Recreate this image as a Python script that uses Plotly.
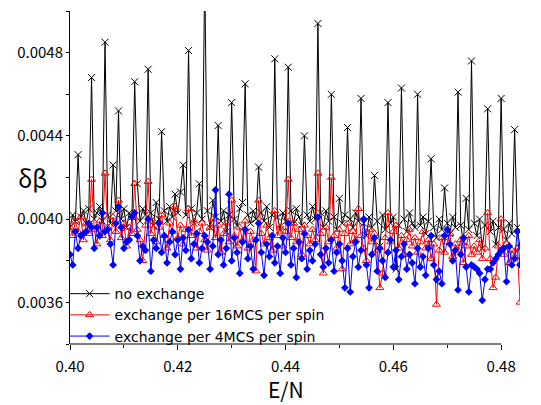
import plotly.graph_objects as go

x_start = 0.4000
x_step = 0.0005

no_exchange = [
    0.00396, 0.00402, 0.00399, 0.00431, 0.00401, 0.00404, 0.00398, 0.00405, 0.00468, 0.00400,
    0.00403, 0.00406, 0.00399, 0.00485, 0.00402, 0.00398, 0.00426, 0.00404, 0.00452, 0.00400,
    0.00405, 0.00396, 0.00403, 0.00401, 0.00466, 0.00417, 0.00399, 0.00405, 0.00402, 0.00472,
    0.00403, 0.00397, 0.00408, 0.00400, 0.00442, 0.00404, 0.00399, 0.00406, 0.00401, 0.00412,
    0.00403, 0.00413, 0.00426, 0.00402, 0.00481, 0.00405, 0.00398, 0.00403, 0.00417, 0.00400,
    0.00520, 0.00404, 0.00396, 0.00409, 0.00401, 0.00445, 0.00399, 0.00404, 0.00394, 0.00402,
    0.00456, 0.00400, 0.00397, 0.00405, 0.00408, 0.00465, 0.00402, 0.00398, 0.00404, 0.00400,
    0.00425, 0.00403, 0.00399, 0.00406, 0.00396, 0.00402, 0.00477, 0.00401, 0.00395, 0.00403,
    0.00399, 0.00473, 0.00404, 0.00398, 0.00405, 0.00401, 0.00397, 0.00440, 0.00402, 0.00399,
    0.00406, 0.00400, 0.00494, 0.00403, 0.00396, 0.00404, 0.00399, 0.00460, 0.00401, 0.00395,
    0.00410, 0.00398, 0.00402, 0.00444, 0.00400, 0.00396, 0.00403, 0.00399, 0.00458, 0.00398,
    0.00392, 0.00401, 0.00396, 0.00421, 0.00399, 0.00387, 0.00402, 0.00395, 0.00456, 0.00398,
    0.00401, 0.00376, 0.00397, 0.00463, 0.00400, 0.00394, 0.00403, 0.00398, 0.00396, 0.00460,
    0.00397, 0.00401, 0.00393, 0.00399, 0.00429, 0.00396, 0.00391, 0.00400, 0.00395, 0.00415,
    0.00398, 0.00393, 0.00401, 0.00396, 0.00461, 0.00397, 0.00389, 0.00410, 0.00395, 0.00476,
    0.00398, 0.00392, 0.00400, 0.00386, 0.00397, 0.00453, 0.00394, 0.00399, 0.00388, 0.00396,
    0.00458, 0.00395, 0.00390, 0.00398, 0.00393, 0.00443, 0.00396, 0.00386,
]

exchange_16 = [
    0.00396, 0.00392, 0.00399, 0.00394, 0.00401, 0.00390, 0.00398, 0.00393, 0.00419, 0.00395,
    0.00388, 0.00399, 0.00392, 0.00422, 0.00396, 0.00390, 0.00401, 0.00394, 0.00409, 0.00391,
    0.00398, 0.00387, 0.00396, 0.00393, 0.00417, 0.00395, 0.00390, 0.00380, 0.00397, 0.00418,
    0.00393, 0.00399, 0.00389, 0.00396, 0.00402, 0.00392, 0.00386, 0.00398, 0.00394, 0.00406,
    0.00391, 0.00397, 0.00388, 0.00395, 0.00405, 0.00392, 0.00399, 0.00386, 0.00394, 0.00398,
    0.00390, 0.00385, 0.00396, 0.00400, 0.00391, 0.00397, 0.00384, 0.00393, 0.00398, 0.00389,
    0.00409, 0.00392, 0.00387, 0.00396, 0.00390, 0.00399, 0.00386, 0.00394, 0.00390, 0.00375,
    0.00409, 0.00393, 0.00388, 0.00397, 0.00391, 0.00385, 0.00404, 0.00392, 0.00396, 0.00387,
    0.00394, 0.00419, 0.00391, 0.00398, 0.00389, 0.00395, 0.00383, 0.00397, 0.00392, 0.00388,
    0.00395, 0.00390, 0.00422, 0.00393, 0.00374, 0.00396, 0.00389, 0.00420, 0.00392, 0.00386,
    0.00395, 0.00376, 0.00393, 0.00398, 0.00388, 0.00394, 0.00390, 0.00405, 0.00392, 0.00386,
    0.00380, 0.00395, 0.00389, 0.00393, 0.00385, 0.00367, 0.00374, 0.00391, 0.00403, 0.00389,
    0.00394, 0.00397, 0.00386, 0.00392, 0.00383, 0.00390, 0.00395, 0.00387, 0.00391, 0.00384,
    0.00389, 0.00394, 0.00386, 0.00390, 0.00381, 0.00388, 0.00359, 0.00385, 0.00391, 0.00384,
    0.00389, 0.00393, 0.00382, 0.00388, 0.00385, 0.00390, 0.00379, 0.00387, 0.00392, 0.00383,
    0.00387, 0.00384, 0.00390, 0.00381, 0.00386, 0.00403, 0.00381, 0.00367, 0.00372, 0.00387,
    0.00400, 0.00383, 0.00388, 0.00379, 0.00385, 0.00382, 0.00386, 0.00360,
]

exchange_4 = [
    0.00383, 0.00378, 0.00394, 0.00386, 0.00392, 0.00393, 0.00394, 0.00398, 0.00396, 0.00386,
    0.00396, 0.00392, 0.00403, 0.00394, 0.00395, 0.00388, 0.00378, 0.00398, 0.00406, 0.00396,
    0.00386, 0.00389, 0.00390, 0.00401, 0.00403, 0.00392, 0.00380, 0.00387, 0.00385, 0.00400,
    0.00375, 0.00390, 0.00386, 0.00398, 0.00384, 0.00392, 0.00379, 0.00389, 0.00394, 0.00383,
    0.00390, 0.00376, 0.00391, 0.00385, 0.00395, 0.00381, 0.00388, 0.00393, 0.00379, 0.00386,
    0.00392, 0.00389, 0.00376, 0.00387, 0.00414, 0.00383, 0.00390, 0.00378, 0.00386, 0.00412,
    0.00380, 0.00391, 0.00384, 0.00374, 0.00389, 0.00395, 0.00381, 0.00387, 0.00376, 0.00390,
    0.00398, 0.00384, 0.00373, 0.00388, 0.00382, 0.00392, 0.00379, 0.00387, 0.00374, 0.00391,
    0.00384, 0.00398, 0.00378, 0.00386, 0.00372, 0.00389, 0.00381, 0.00393, 0.00376, 0.00385,
    0.00380, 0.00388, 0.00401, 0.00383, 0.00377, 0.00386, 0.00379, 0.00390, 0.00375, 0.00384,
    0.00388, 0.00380, 0.00367, 0.00386, 0.00365, 0.00382, 0.00389, 0.00377, 0.00385, 0.00400,
    0.00378, 0.00367, 0.00383, 0.00391, 0.00375, 0.00386, 0.00380, 0.00372, 0.00384, 0.00390,
    0.00377, 0.00385, 0.00371, 0.00382, 0.00388, 0.00376, 0.00383, 0.00379, 0.00369, 0.00386,
    0.00377, 0.00382, 0.00373, 0.00386, 0.00392, 0.00378, 0.00371, 0.00375, 0.00369, 0.00392,
    0.00395, 0.00388, 0.00380, 0.00385, 0.00366, 0.00383, 0.00391, 0.00377, 0.00365, 0.00378,
    0.00377, 0.00376, 0.00374, 0.00361, 0.00371, 0.00376, 0.00376, 0.00379, 0.00381, 0.00383,
    0.00385, 0.00386, 0.00370, 0.00387, 0.00378, 0.00381, 0.00394, 0.00378,
]

series_names = ["no exchange", "exchange per 16MCS per spin", "exchange per 4MCS per spin"]
x_tick_values = [0.40, 0.42, 0.44, 0.46, 0.48]
x_tick_labels = ["0.40", "0.42", "0.44", "0.46", "0.48"]
y_tick_values = [0.0036, 0.0040, 0.0044, 0.0048]
y_tick_labels = ["0.0036", "0.0040", "0.0044", "0.0048"]

n = len(no_exchange)
xs = [round(x_start + i * x_step, 5) for i in range(n)]

FONT = "Noto Sans CJK JP"
LEG_FONT = "DejaVu Sans"

fig = go.Figure()
fig.add_trace(go.Scatter(
    x=xs, y=no_exchange, mode="lines+markers", name=series_names[0],
    line=dict(color="black", width=1),
    marker=dict(symbol="x-thin", size=7, color="black", line=dict(color="black", width=1)),
))
fig.add_trace(go.Scatter(
    x=xs[:len(exchange_16)], y=exchange_16, mode="lines+markers", name=series_names[1],
    line=dict(color="red", width=1),
    marker=dict(symbol="triangle-up-open", size=7, color="red", line=dict(color="red", width=1)),
))
fig.add_trace(go.Scatter(
    x=xs[:len(exchange_4)], y=exchange_4, mode="lines+markers", name=series_names[2],
    line=dict(color="blue", width=1),
    marker=dict(symbol="diamond", size=6, color="blue"),
))

fig.update_layout(
    width=541, height=405,
    margin=dict(l=62, r=29, t=3, b=69, autoexpand=False),
    paper_bgcolor="white", plot_bgcolor="white",
    font=dict(family=FONT, color="black", size=14),
    showlegend=True,
    legend=dict(
        x=-0.012, y=0.198, xanchor="left", yanchor="top",
        bgcolor="rgba(0,0,0,0)", borderwidth=0,
        font=dict(family=LEG_FONT, size=14, color="black"),
        tracegroupgap=0, itemwidth=40,
    ),
    xaxis=dict(
        range=[0.40, 0.4835], showgrid=False, zeroline=False, showline=False,
        automargin=False,
        tickmode="array", tickvals=x_tick_values, ticktext=x_tick_labels,
        ticks="outside", ticklen=5, tickwidth=1, tickcolor="black",
        ticklabelstandoff=4,
        tickfont=dict(family=FONT, size=15, color="black"),
        minor=dict(tickvals=[0.41, 0.43, 0.45, 0.47], ticks="outside", ticklen=3,
                   tickwidth=1, tickcolor="black", showgrid=False),
    ),
    yaxis=dict(
        range=[0.0034, 0.0050], showgrid=False, zeroline=False,
        automargin=False,
        showline=True, linecolor="black", linewidth=1,
        tickmode="array", tickvals=y_tick_values, ticktext=y_tick_labels,
        ticks="outside", ticklen=3, tickwidth=1, tickcolor="black",
        tickfont=dict(family=FONT, size=15, color="black"),
        minor=dict(tickvals=[0.0034, 0.0038, 0.0042, 0.0046, 0.0050], ticks="outside",
                   ticklen=3, tickwidth=1, tickcolor="black", showgrid=False),
    ),
    shapes=[dict(type="line", xref="x", yref="paper", x0=0.40, x1=0.48, y0=0, y1=0,
                 line=dict(color="black", width=1))],
    annotations=[
        dict(text="δβ", xref="paper", yref="paper", x=-0.084, y=0.5,
             xanchor="center", yanchor="middle", showarrow=False,
             font=dict(family=FONT, size=24, color="black")),
        dict(text="E/N", xref="x", yref="paper", x=0.44, y=-0.136,
             xanchor="center", yanchor="middle", showarrow=False,
             font=dict(family=FONT, size=21, color="black")),
    ],
)

fig.write_html("out.html")
